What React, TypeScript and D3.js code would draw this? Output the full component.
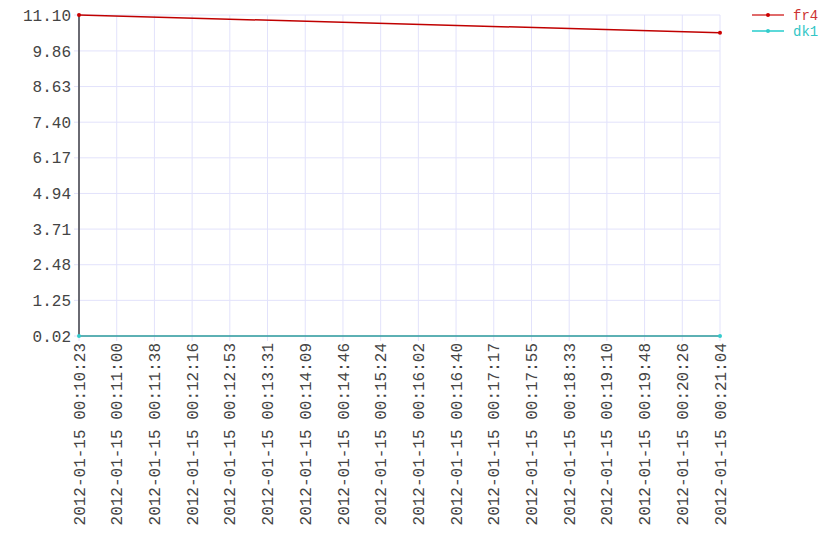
import React from "react";
import * as d3 from "d3";

const timeLabels = [
  "2012-01-15 00:10:23", "2012-01-15 00:11:00", "2012-01-15 00:11:38", "2012-01-15 00:12:16",
  "2012-01-15 00:12:53", "2012-01-15 00:13:31", "2012-01-15 00:14:09", "2012-01-15 00:14:46",
  "2012-01-15 00:15:24", "2012-01-15 00:16:02", "2012-01-15 00:16:40", "2012-01-15 00:17:17",
  "2012-01-15 00:17:55", "2012-01-15 00:18:33", "2012-01-15 00:19:10", "2012-01-15 00:19:48",
  "2012-01-15 00:20:26", "2012-01-15 00:21:04",
];
const yTicks = [0.02, 1.25, 2.48, 3.71, 4.94, 6.17, 7.4, 8.63, 9.86, 11.1];
const pointTimes = ["2012-01-15 00:10:23", "2012-01-15 00:21:04"];
const fr4 = [11.1, 10.49];
const dk1 = [0.02, 0.02];
const seriesNames = ["fr4", "dk1"];

const parse = d3.timeParse("%Y-%m-%d %H:%M:%S");

export default function App() {
  const W = 840, H = 560;
  const left = 79, right = 720, top = 15, bottom = 336;
  const t0 = parse(pointTimes[0])!;
  const t1 = parse(pointTimes[1])!;
  const x = d3.scaleTime().domain([t0, t1]).range([left, right]);
  const y = d3.scaleLinear().domain([yTicks[0], yTicks[yTicks.length - 1]]).range([bottom, top]);
  const n = timeLabels.length;
  const tickTimes = d3.range(n).map((i) => new Date(+t0 + ((+t1 - +t0) * i) / (n - 1)));
  const font = "'Liberation Mono', monospace";
  const grid = "#e2e2fb";
  const series = [
    { name: seriesNames[0], vals: fr4, line: "#c00000", dot: "#cc0000", leg: "#e06a6a", text: "#cc3333" },
    { name: seriesNames[1], vals: dk1, line: "#2b9b9b", dot: "#33cccc", leg: "#5cd9d9", text: "#33c6c6" },
  ];
  const lineGen = (vals: number[]) =>
    d3.line<number>().x((_, i) => x(parse(pointTimes[i])!)).y((v) => y(v))(vals) || "";

  return (
    <svg width={W} height={H} style={{ position: "absolute", left: 0, top: 0 }}>
      <rect width={W} height={H} fill="#fff" />
      {tickTimes.map((t, i) => (
        <line key={"vx" + i} x1={x(t)} x2={x(t)} y1={top} y2={bottom + 5} stroke={grid} strokeWidth={1} />
      ))}
      {yTicks.map((v, i) => (
        <line key={"hy" + i} x1={left - 5} x2={right} y1={y(v)} y2={y(v)} stroke={grid} strokeWidth={1} />
      ))}
      <line x1={left} x2={left} y1={top} y2={bottom} stroke="#6a6a72" strokeWidth={2} />
      {yTicks.map((v, i) => (
        <text key={"yl" + i} x={left - 8} y={y(v)} dy="0.35em" textAnchor="end" fontFamily={font} fontSize={16} fill="#444">
          {v.toFixed(2)}
        </text>
      ))}
      {tickTimes.map((t, i) => (
        <text
          key={"xl" + i}
          transform={`translate(${x(t)},${bottom + 7}) rotate(-90)`}
          dy="0.35em"
          textAnchor="end"
          fontFamily={font}
          fontSize={16}
          fill="#444"
        >
          {timeLabels[i]}
        </text>
      ))}
      {series.map((s) => (
        <g key={s.name}>
          <path d={lineGen(s.vals)} fill="none" stroke={s.line} strokeWidth={1.5} />
          {s.vals.map((v, i) => (
            <circle key={i} cx={x(parse(pointTimes[i])!)} cy={y(v)} r={2} fill={s.dot} />
          ))}
        </g>
      ))}
      {series.map((s, i) => (
        <g key={"leg" + s.name} transform={`translate(752,${15 + i * 16})`}>
          <line x1={0} x2={32} y1={0} y2={0} stroke={s.leg} strokeWidth={2} />
          <circle cx={16} cy={0} r={2} fill={s.dot} />
          <text x={41} y={0} dy="0.35em" fontFamily={font} fontSize={14} fill={s.text}>
            {s.name}
          </text>
        </g>
      ))}
    </svg>
  );
}
